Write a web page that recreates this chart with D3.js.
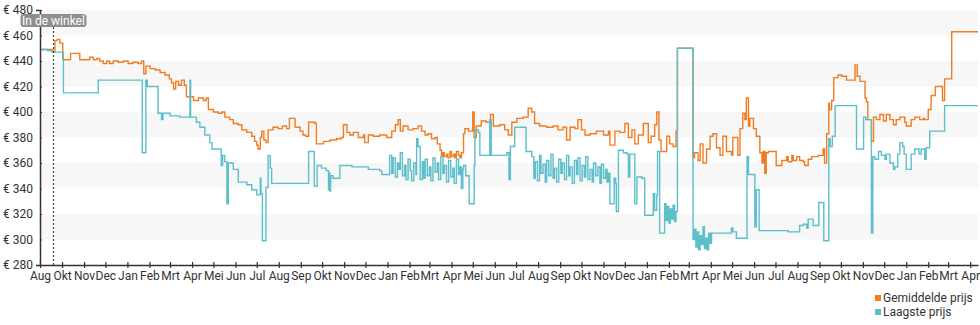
<!DOCTYPE html>
<html>
<head>
<meta charset="utf-8">
<script src="https://cdn.jsdelivr.net/npm/d3@7"></script>
<style>
  html, body { margin: 0; padding: 0; background: #fff; }
  svg { display: block; font-family: Roboto, "Noto Sans", sans-serif; }
</style>
</head>
<body>
<svg id="chart" width="980" height="325"></svg>
<script>
// ---- data ----
const startDate = Date.UTC(2019, 7, 31);      // first day shown
const endDay = 1320;                          // last day shown (days after start)
const inStoreDay = 18;                        // "In de winkel" marker (days after start)
const monthLabels = ["Jan","Feb","Mrt","Apr","Mei","Jun","Jul","Aug","Sep","Okt","Nov","Dec"];
const yTicks = [280, 300, 320, 340, 360, 380, 400, 420, 440, 460, 480];
const bandStarts = [300, 340, 380, 420, 460];
const seriesNames = ["Gemiddelde prijs", "Laagste prijs"];

// [days after start, price]
const avgPrice = [
[0,449],[18,447],[21,456],[24,457],[28,454],[32,441],[43,446],[56,441],[70,443],[75,441],[80,442],[84,440],[89,438],[94,440],[98,438],[103,440],[110,439],[117,440],[124,438],[131,439],[138,438],[143,440],[146,430],[149,436],[155,434],[162,433],[169,431],[176,429],[182,426],[185,423],[188,418],[191,424],[195,421],[199,425],[203,421],[206,412],[216,409],[223,411],[230,409],[234,411],[237,402],[244,400],[251,399],[256,400],[260,396],[267,394],[272,391],[279,390],[284,386],[291,384],[298,381],[302,377],[305,374],[307,371],[310,380],[312,385],[315,378],[318,376],[321,386],[328,388],[335,387],[341,389],[347,387],[351,395],[359,388],[366,385],[370,382],[374,381],[378,392],[387,391],[389,375],[399,377],[408,378],[417,379],[424,380],[427,390],[432,384],[436,382],[441,384],[448,380],[455,382],[457,376],[462,382],[469,381],[478,382],[488,380],[495,385],[500,390],[504,394],[507,385],[511,389],[518,386],[525,387],[532,389],[537,385],[542,382],[546,383],[551,379],[556,380],[559,375],[563,370],[565,366],[567,368],[569,365],[572,367],[574,364],[577,369],[579,365],[582,367],[584,364],[586,369],[589,366],[591,364],[593,368],[596,383],[598,387],[603,385],[609,400],[611,380],[614,389],[621,393],[628,392],[634,398],[638,389],[647,390],[654,386],[659,382],[664,392],[671,395],[680,396],[687,403],[692,400],[696,391],[703,389],[713,388],[722,389],[729,386],[736,388],[741,378],[746,388],[753,387],[757,394],[762,386],[767,382],[774,383],[783,385],[793,382],[800,385],[802,374],[809,385],[816,384],[823,391],[828,380],[833,386],[837,375],[842,382],[849,391],[856,376],[860,381],[865,390],[868,400],[871,378],[874,369],[882,381],[886,375],[891,373],[895,385],[897,450],[919,364],[921,368],[926,362],[929,375],[933,360],[938,371],[943,381],[947,383],[952,372],[957,366],[961,381],[966,369],[973,366],[975,380],[982,366],[985,387],[989,399],[992,394],[994,411],[997,389],[999,395],[1004,387],[1008,381],[1013,368],[1016,360],[1018,369],[1020,352],[1022,368],[1025,369],[1036,358],[1044,362],[1051,365],[1053,361],[1058,366],[1060,362],[1065,365],[1069,362],[1074,361],[1076,358],[1081,363],[1086,365],[1095,366],[1102,371],[1104,360],[1107,383],[1110,407],[1111,402],[1114,409],[1117,427],[1123,429],[1128,428],[1135,425],[1147,437],[1150,428],[1154,424],[1161,411],[1163,408],[1165,394],[1170,377],[1173,396],[1177,394],[1182,398],[1187,393],[1191,398],[1196,394],[1201,390],[1205,394],[1210,396],[1217,392],[1219,389],[1226,394],[1231,396],[1238,394],[1243,395],[1245,394],[1250,402],[1254,413],[1260,420],[1266,420],[1270,409],[1273,426],[1283,463],[1320,463]
];

const lowPrice = [
[0,449],[11,448],[17,447],[33,415],[82,425],[144,368],[149,425],[151,420],[166,399],[171,394],[173,399],[183,397],[197,396],[211,425],[212,396],[220,392],[225,388],[232,382],[239,376],[242,371],[255,358],[257,366],[260,361],[263,328],[265,360],[272,355],[279,345],[291,343],[298,339],[305,335],[310,348],[311,336],[313,299],[318,341],[321,366],[324,356],[326,344],
[378,369],[386,342],[390,358],[396,356],[403,354],[406,339],[407,352],[408,338],[409,350],[412,348],[422,358],[439,357],[462,355],[478,354],[481,351],
[492,366],[495,352],[497,364],[500,349],[503,360],[505,355],[507,368],[510,350],[513,358],[515,347],[518,363],[521,354],[523,346],[526,360],[529,351],[530,379],[532,373],[535,347],[538,361],[540,348],
[542,363],[545,350],[548,357],[550,346],[553,364],[556,353],[559,360],[561,347],[564,365],[567,352],[569,358],[572,345],[575,362],[578,349],[581,356],[583,344],[586,363],[589,351],[591,357],[593,340],[595,355],[596,358],[599,350],[604,328],[611,358],[612,386],[617,384],[619,366],[633,394],[635,366],[657,368],[660,347],[662,373],[668,388],[684,369],
[692,365],[695,348],[697,361],[700,346],[703,366],[705,352],[708,359],[711,345],[713,362],[716,350],[719,367],[722,348],[724,356],[727,345],[730,363],[733,352],[735,360],[738,347],[741,366],[744,350],[746,357],[749,344],[752,362],[755,351],[757,364],[760,346],[763,358],[766,349],[768,365],[771,347],[774,355],[777,345],[779,360],[782,350],[785,357],[788,344],[790,359],[793,348],[796,355],[798,345],[800,352],
[802,328],[808,348],[810,344],[811,322],[814,370],[821,368],[826,367],[828,349],[830,367],[837,328],[840,349],[847,348],[851,319],[863,336],[865,323],[868,335],[869,369],[872,305],[879,328],[881,315],[883,326],[885,313],[887,324],[889,316],[891,327],[893,314],[895,322],[897,450],[919,300],[921,308],[923,294],[925,306],[927,292],[929,303],[931,296],[933,310],[935,293],[937,301],[939,292],[941,305],[943,297],[945,305],[973,309],[975,306],[980,301],[995,365],[997,351],[1006,310],[1008,339],[1012,307],[1053,306],[1069,311],[1074,312],[1079,309],[1081,316],[1088,311],[1096,329],[1103,299],[1110,379],[1112,373],[1115,381],[1119,405],[1149,371],[1159,396],[1162,394],[1170,305],[1172,365],[1175,363],[1180,369],[1184,366],[1189,363],[1191,367],[1196,360],[1201,355],[1203,357],[1207,367],[1210,376],[1214,373],[1216,367],[1219,355],[1226,367],[1231,371],[1237,367],[1240,371],[1245,363],[1247,372],[1252,385],[1273,405],[1320,405]
];

// ---- drawing ----
const colors = ["#f07d22", "#5cbfca"];
const DAY = 86400000;
const toDate = d => new Date(startDate + d * DAY);

const svg = d3.select("#chart");
const plotLeft = 40, plotRight = 978, plotTop = 10, plotBottom = 265;

const x = d3.scaleUtc().domain([toDate(0), toDate(endDay)]).range([plotLeft, plotRight]);
const y = d3.scaleLinear().domain([280, 480]).range([plotBottom, plotTop]);

// bands
svg.append("g").selectAll("rect").data(bandStarts).join("rect")
  .attr("x", plotLeft).attr("width", plotRight - plotLeft)
  .attr("y", d => y(d + 20)).attr("height", d => y(d) - y(d + 20))
  .attr("fill", "#f7f7f7");

// lines
const line = d3.line().x(d => x(toDate(d[0]))).y(d => y(d[1])).curve(d3.curveStepAfter);
svg.append("path").datum(avgPrice).attr("d", line)
  .attr("fill", "none").attr("stroke", colors[0]).attr("stroke-width", 1.4);
svg.append("path").datum(lowPrice).attr("d", line)
  .attr("fill", "none").attr("stroke", colors[1]).attr("stroke-width", 1.4);

// in-store marker
const mx = Math.round(x(toDate(inStoreDay))) + 0.5;
svg.append("line").attr("x1", mx).attr("x2", mx).attr("y1", plotTop + 17).attr("y2", plotBottom)
  .attr("stroke", "#444").attr("stroke-width", 1.2).attr("stroke-dasharray", "2,2");

// y axis
const yAxis = svg.append("g").attr("transform", `translate(${plotLeft},0)`)
  .call(d3.axisLeft(y).tickValues(yTicks).tickFormat(d => "€ " + d).tickSize(4).tickPadding(3));
yAxis.select(".domain").attr("stroke", "#333").attr("stroke-width", 1.5);
yAxis.selectAll(".tick line").attr("x2", 2).attr("stroke", "#333").attr("stroke-width", 1.2);
yAxis.selectAll("text").attr("font-size", 12).attr("fill", "#333").attr("font-family", "Roboto");

// x axis
const monthTicks = [toDate(0)].concat(d3.utcMonth.range(new Date(Date.UTC(2019, 9, 1)), toDate(endDay)));
const xAxis = svg.append("g").attr("transform", `translate(0,${plotBottom})`)
  .call(d3.axisBottom(x).tickValues(monthTicks).tickFormat(d => monthLabels[d.getUTCMonth()]).tickSize(3).tickSizeOuter(0));
xAxis.select(".domain").attr("stroke", "#333").attr("stroke-width", 1.5);
xAxis.selectAll(".tick line").attr("y1", -3).attr("stroke", "#333").attr("stroke-width", 1.2);
xAxis.selectAll("text").attr("y", 6).attr("font-size", 12).attr("fill", "#333").attr("font-family", "Roboto");

// label
const lbl = svg.append("g");
lbl.append("rect").attr("x", mx - 33).attr("y", 14).attr("width", 66).attr("height", 13)
  .attr("rx", 3).attr("fill", "#8f8f8f");
lbl.append("text").attr("x", mx).attr("y", 24.5).attr("text-anchor", "middle")
  .attr("font-size", 12).attr("fill", "#fff").text("In de winkel");

// legend
const lg = svg.append("g").attr("transform", "translate(875,0)");
seriesNames.forEach((name, i) => {
  lg.append("rect").attr("x", 0).attr("y", 295 + i * 14).attr("width", 6).attr("height", 6).attr("fill", colors[i]);
  lg.append("text").attr("x", 8).attr("y", 302 + i * 14).attr("font-size", 12).attr("fill", "#333").text(name);
});
</script>
</body>
</html>
